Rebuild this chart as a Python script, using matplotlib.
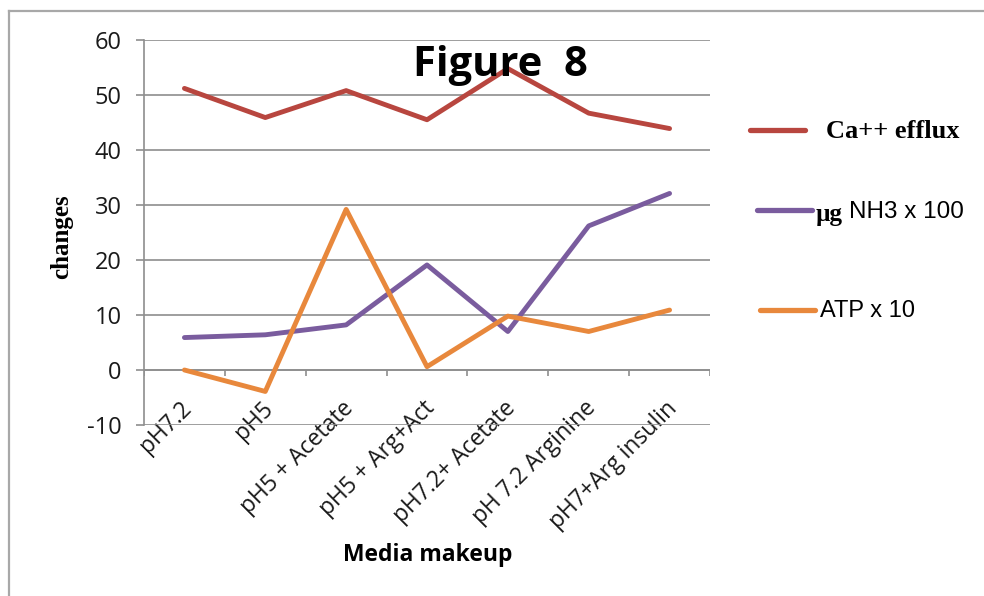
import matplotlib
matplotlib.use("Agg")
import matplotlib.pyplot as plt
from matplotlib.lines import Line2D
from matplotlib.transforms import ScaledTranslation
import numpy as np

plt.rcParams["axes.unicode_minus"] = False

# data
media = ["pH7.2", "pH5", "pH5 + Acetate", "pH5 + Arg+Act",
         "pH7.2+ Acetate", "pH 7.2 Arginine", "pH7+Arg insulin"]
ca_efflux = [51.2, 45.9, 50.8, 45.5, 54.8, 46.7, 43.9]
nh3_x100 = [5.9, 6.4, 8.2, 19.1, 7.0, 26.2, 32.1]
atp_x10 = [0.0, -3.9, 29.2, 0.6, 9.8, 7.0, 10.9]
yticks = [-10, 0, 10, 20, 30, 40, 50, 60]

red = "#B8463F"
purple = "#7A5C9E"
orange = "#E8883C"
grid = "#8E8E8E"

fig = plt.figure(figsize=(9.84, 5.96), dpi=100)
ax = fig.add_axes([144 / 984, 1 - 425 / 596, (710 - 144) / 984, (425 - 40) / 596])

x = np.arange(len(media))
ax.plot(x, ca_efflux, color=red, lw=3.5, solid_capstyle="round", zorder=3)
ax.plot(x, nh3_x100, color=purple, lw=3.5, solid_capstyle="round", zorder=3)
ax.plot(x, atp_x10, color=orange, lw=3.5, solid_capstyle="round", zorder=3)

ax.set_xlim(-0.5, len(media) - 0.5)
ax.set_ylim(yticks[0], yticks[-1])
ax.set_yticks(yticks)
ax.yaxis.grid(True, color=grid, lw=1.2)
ax.set_axisbelow(True)
for s in ["top", "right", "bottom"]:
    ax.spines[s].set_visible(False)
ax.spines["left"].set_color(grid)
ax.spines["left"].set_linewidth(1.2)
ax.tick_params(axis="y", length=6, width=1.2, color=grid, labelsize=17,
               labelcolor="#1a1a1a", pad=10)
for lab in ax.get_yticklabels():
    lab.set_fontfamily("Open Sans")

# category axis crosses at zero, ticks between categories
ax.axhline(0, color=grid, lw=1.2, zorder=1)
ax.vlines(np.arange(len(media) + 1) - 0.5, -1.0, 0, color=grid, lw=1.2, zorder=1)
ax.set_xticks(x)
ax.set_xticklabels(media, rotation=45, ha="right", va="center",
                   rotation_mode="anchor", fontfamily="Open Sans",
                   fontsize=16.5, color="#1a1a1a")
ax.tick_params(axis="x", length=0, pad=0)
offs = ScaledTranslation(4 / 100, 20 / 100, fig.dpi_scale_trans)
for lab in ax.get_xticklabels():
    lab.set_transform(lab.get_transform() + offs)

ax.set_xlabel("Media makeup", fontfamily="Open Sans", fontweight="bold",
              fontsize=16.5, va="center")
ax.xaxis.set_label_coords((428 - 144) / 566, -(555 - 425) / 385)
ax.set_ylabel("changes", fontfamily="Liberation Serif", fontweight="bold",
              fontsize=18, va="center")
ax.yaxis.set_label_coords(-(144 - 62) / 566, 0.49)

fig.text(500 / 984, 1 - 66 / 596, "Figure  8", fontfamily="Open Sans",
         fontweight="bold", fontsize=30, ha="center", va="center")

# legend drawn by hand
leg = [(130, red, 750, 805), (210, purple, 757, 812), (310, orange, 760, 815)]
for ypx, c, x0, x1 in leg:
    fig.add_artist(Line2D([x0 / 984, x1 / 984], [1 - ypx / 596] * 2, color=c,
                          lw=3.8, solid_capstyle="round"))
fig.text(826 / 984, 1 - 131 / 596, "Ca++ efflux", fontfamily="Liberation Serif",
         fontweight="bold", fontsize=19, va="center")
fig.text(816 / 984, 1 - 214 / 596, "\u00b5g", fontfamily="Liberation Serif",
         fontweight="bold", fontsize=18, va="center")
fig.text(849 / 984, 1 - 212 / 596, "NH3 x 100", fontfamily="Liberation Sans",
         fontsize=17.5, va="center")
fig.text(820 / 984, 1 - 311 / 596, "ATP x 10", fontfamily="Liberation Sans",
         fontsize=17, va="center")

# outer frame (top and left edges)
fig.add_artist(Line2D([9 / 984, 1], [1 - 11 / 596] * 2, color="#A8A8A8", lw=1.6))
fig.add_artist(Line2D([9 / 984] * 2, [0, 1 - 11 / 596], color="#A8A8A8", lw=1.6))

fig.savefig("out.png", dpi=100)
